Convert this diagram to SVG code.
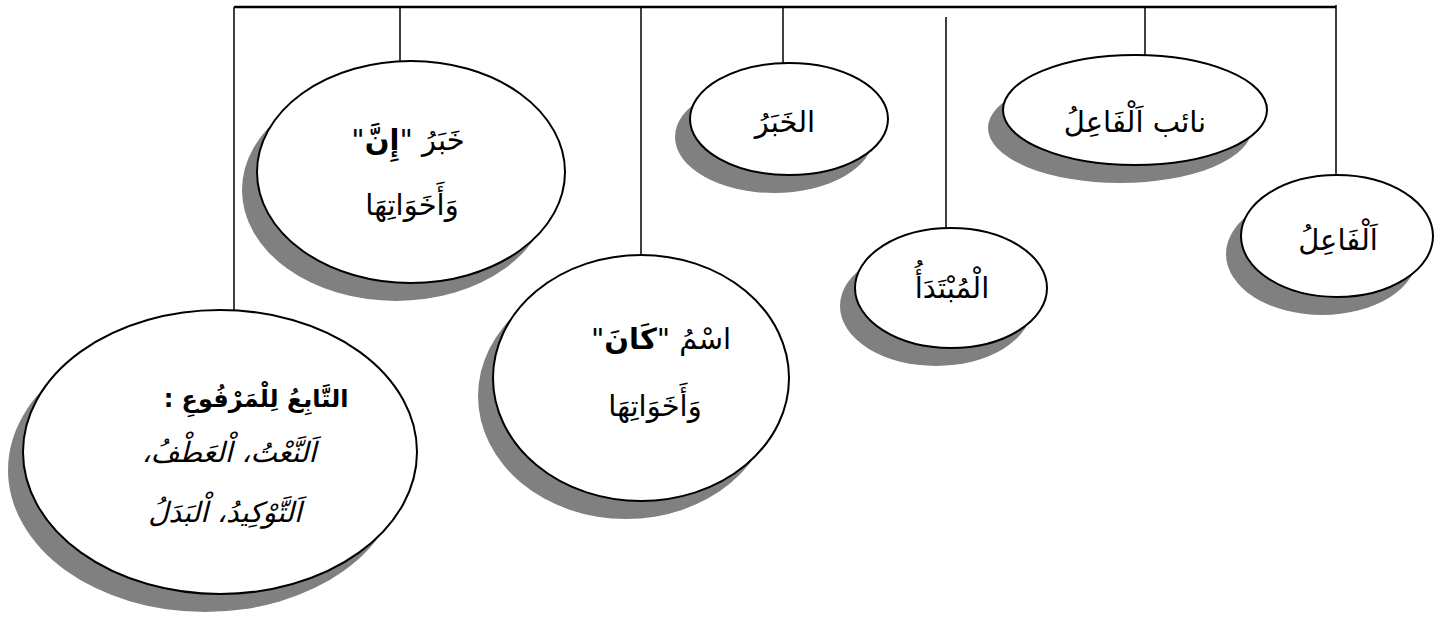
<svg xmlns="http://www.w3.org/2000/svg" width="1445" height="618" viewBox="0 0 1445 618">
<style>
.sh{fill:#808080;stroke:none}
.el{fill:#fff;stroke:#000;stroke-width:2}
.ln{stroke:#000;stroke-width:1.5;fill:none}
.tx{font-family:"DejaVu Sans",sans-serif;font-size:29px;fill:#000;text-anchor:middle;direction:rtl}
.b{font-weight:bold}
.it{font-style:italic;font-size:28px}
</style>
<rect width="1445" height="618" fill="#fff"/>
<g id="connectors">
<line class="ln" x1="234" y1="7" x2="1336" y2="7" style="stroke-width:2.5"/>
<line class="ln" x1="234" y1="7" x2="234" y2="310"/>
<line class="ln" x1="400" y1="7" x2="400" y2="61"/>
<line class="ln" x1="641" y1="7" x2="641" y2="255"/>
<line class="ln" x1="783" y1="7" x2="783" y2="63"/>
<line class="ln" x1="946" y1="17" x2="946" y2="228"/>
<line class="ln" x1="1145" y1="7" x2="1145" y2="55"/>
<line class="ln" x1="1336" y1="5" x2="1336" y2="175"/>
</g>
<g id="n-tabi">
<ellipse class="sh" cx="205" cy="470" rx="197" ry="142"/>
<ellipse class="el" cx="220" cy="452" rx="197" ry="142"/>
<text class="tx b" x="256" y="407" style="font-size:24px">التَّابِعُ لِلْمَرْفُوعِ :</text>
<text class="tx it" x="229" y="462">اَلنَّعْتُ، اْلعَطْفُ،</text>
<text class="tx it" x="225" y="522">اَلتَّوْكِيدُ، اْلبَدَلُ</text>
</g>
<g id="n-khabar-inna">
<ellipse class="sh" cx="396" cy="190" rx="154" ry="111"/>
<ellipse class="el" cx="411" cy="172" rx="154" ry="111"/>
<text class="tx" x="408" y="150">خَبَرُ "<tspan class="b">إِنَّ</tspan>"</text>
<text class="tx" x="412" y="215">وَأَخَوَاتِهَا</text>
</g>
<g id="n-ism-kana">
<ellipse class="sh" cx="626" cy="396" rx="148" ry="123"/>
<ellipse class="el" cx="641" cy="378" rx="148" ry="123"/>
<text class="tx" x="661" y="349">اسْمُ "<tspan class="b">كَانَ</tspan>"</text>
<text class="tx" x="655" y="416">وَأَخَوَاتِهَا</text>
</g>
<g id="n-khabar">
<ellipse class="sh" cx="774" cy="137" rx="99" ry="56"/>
<ellipse class="el" cx="789" cy="119" rx="99" ry="56"/>
<text class="tx" x="785" y="132">الخَبَرُ</text>
</g>
<g id="n-mubtada">
<ellipse class="sh" cx="936" cy="306" rx="96" ry="60"/>
<ellipse class="el" cx="951" cy="288" rx="96" ry="60"/>
<text class="tx" x="952" y="298">الْمُبْتَدَأُ</text>
</g>
<g id="n-naib">
<ellipse class="sh" cx="1120" cy="128" rx="132" ry="55"/>
<ellipse class="el" cx="1135" cy="110" rx="132" ry="55"/>
<text class="tx" x="1135" y="132">نائب اَلْفَاعِلُ</text>
</g>
<g id="n-fail">
<ellipse class="sh" cx="1322" cy="254" rx="96" ry="61"/>
<ellipse class="el" cx="1337" cy="236" rx="96" ry="61"/>
<text class="tx" x="1338" y="250">اَلْفَاعِلُ</text>
</g>
</svg>
